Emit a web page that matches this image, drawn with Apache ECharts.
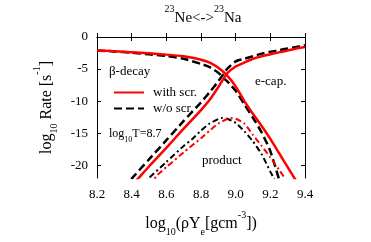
<!DOCTYPE html>
<html><head><meta charset="utf-8">
<script src="https://cdn.jsdelivr.net/npm/echarts@6/dist/echarts.min.js"></script>
<style>html,body{margin:0;padding:0;background:#fff}#c{width:371px;height:242px}</style>
</head><body><div id="c"></div>
<script>
// ---- data ----
const xTicks = [8.2, 8.4, 8.6, 8.8, 9.0, 9.2, 9.4];
const yTicks = [0, -5, -10, -15, -20];

const betaScrX = [8.2, 8.3, 8.4, 8.5, 8.6, 8.7, 8.75, 8.8, 8.85, 8.9, 8.95, 9.0, 9.05, 9.1, 9.15, 9.2, 9.25, 9.3, 9.35];
const betaScrY = [-2.1, -2.22, -2.38, -2.55, -2.75, -3.0, -3.25, -3.55, -4.0, -4.8, -6.0, -7.7, -10.0, -12.0, -13.9, -15.9, -18.1, -20.3, -22.5];

const betaNoX = [8.2, 8.3, 8.4, 8.5, 8.6, 8.7, 8.8, 8.85, 8.9, 8.95, 9.0, 9.05, 9.1, 9.15, 9.2, 9.25];
const betaNoY = [-2.1, -2.25, -2.45, -2.7, -2.95, -3.4, -4.2, -4.7, -5.6, -6.9, -8.4, -10.5, -12.6, -14.9, -17.8, -22.2];

const ecapScrX = [8.4, 8.45, 8.5, 8.6, 8.7, 8.8, 8.85, 8.9, 8.95, 9.0, 9.05, 9.1, 9.15, 9.2, 9.25, 9.3, 9.35, 9.4];
const ecapScrY = [-23.2, -21.7, -20.2, -17.3, -14.3, -11.4, -9.8, -7.8, -5.7, -4.6, -4.0, -3.4, -3.0, -2.7, -2.4, -2.1, -1.8, -1.55];

const ecapNoX = [8.35, 8.4, 8.5, 8.6, 8.7, 8.8, 8.85, 8.9, 8.95, 9.0, 9.05, 9.1, 9.15, 9.2, 9.25, 9.3, 9.35, 9.4];
const ecapNoY = [-23.6, -22.1, -19.1, -16.1, -13.1, -10.2, -8.6, -6.9, -5.0, -3.8, -3.4, -3.0, -2.6, -2.3, -2.05, -1.8, -1.55, -1.3];

const prodScrX = [8.5, 8.55, 8.6, 8.7, 8.8, 8.85, 8.9, 8.95, 8.97, 9.0, 9.05, 9.1, 9.15, 9.2, 9.25, 9.3];
const prodScrY = [-23.2, -21.5, -20.3, -18.0, -15.8, -14.6, -13.5, -12.8, -12.65, -12.75, -13.5, -15.3, -17.0, -18.8, -20.7, -22.7];

const prodNoX = [8.45, 8.5, 8.6, 8.7, 8.75, 8.8, 8.85, 8.9, 8.92, 8.95, 9.0, 9.05, 9.1, 9.15, 9.2, 9.25];
const prodNoY = [-23.5, -22.0, -19.5, -17.0, -15.9, -14.6, -13.5, -12.8, -12.65, -12.75, -13.4, -14.7, -16.3, -18.3, -21.0, -23.6];

const zip = (xs, ys) => xs.map((x, i) => [x, ys[i]]);
const RED = '#ff0000', BLK = '#000000';
const FONT = 'Liberation Serif';
const subRich = {
  sub: { fontSize: 10, verticalAlign: 'bottom', padding: [0, 0, -5, 0], fontFamily: FONT, color: '#000' },
  sup: { fontSize: 10, verticalAlign: 'top', padding: [-6, 0, 0, 0], fontFamily: FONT, color: '#000' },
  n: { fontSize: 16, fontFamily: FONT, color: '#000' }
};

function line(name, xs, ys, color, type, width) {
  return {
    name, type: 'line', data: zip(xs, ys), showSymbol: false, symbol: 'none',
    smooth: 0.2, clip: true, animation: false,
    lineStyle: { color, type, width }, itemStyle: { color }
  };
}

const chart = echarts.init(document.getElementById('c'), null, { renderer: 'canvas' });
const tickStyle = { show: true, inside: true, length: 4, lineStyle: { color: '#000' } };
const axisLine = { show: true, lineStyle: { color: '#000', width: 1 } };
chart.setOption({
  animation: false,
  backgroundColor: '#fff',
  title: {
    text: '{sup|23}{n|Ne<->}{sup|23}{n|Na}', left: 198, top: 6, textAlign: 'center',
    textStyle: { fontFamily: FONT, fontSize: 15, fontWeight: 'normal', color: '#000',
      rich: { sup: { fontSize: 10, verticalAlign: 'top', padding: [-7, 0, 0, 0], fontFamily: FONT, color: '#000' },
              n: { fontSize: 15, fontFamily: FONT, color: '#000' } } }
  },
  grid: { left: 97, right: 66, top: 37, bottom: 56, containLabel: false },
  legend: {
    data: ['with scr.', 'w/o scr.'], orient: 'vertical', left: 108, top: 81,
    itemWidth: 30, itemHeight: 14, itemGap: 3,
    itemStyle: { opacity: 0 },
    textStyle: { fontFamily: FONT, fontSize: 13, color: '#000', padding: [0, 0, 0, 4] },
    selectedMode: false
  },
  xAxis: [
    {
      type: 'value', min: 8.2, max: 9.4, interval: 0.2, position: 'bottom',
      axisLine, axisTick: tickStyle, splitLine: { show: false },
      axisLabel: { fontFamily: FONT, fontSize: 13, color: '#000', margin: 10,
        formatter: v => v.toFixed(1) },
      name: '{n|log}{sub|10}{n|(ρY}{sub|e}{n|[gcm}{sup|-3}{n|])}', nameLocation: 'middle', nameGap: 38,
      nameTextStyle: { fontFamily: FONT, fontSize: 16, color: '#000', rich: subRich }
    },
    {
      type: 'value', min: 8.2, max: 9.4, interval: 0.2, position: 'top',
      axisLine, axisTick: tickStyle, splitLine: { show: false },
      axisLabel: { show: false }
    }
  ],
  yAxis: [
    {
      type: 'value', min: -22, max: 0, position: 'left',
      axisLine, splitLine: { show: false },
      axisTick: Object.assign({}, tickStyle, { customValues: yTicks }),
      axisLabel: { fontFamily: FONT, fontSize: 13, color: '#000', margin: 9, customValues: yTicks },
      name: '{n|log}{sub|10}{n| Rate [s}{sup|-1}{n|]}', nameLocation: 'middle', nameGap: 28, nameRotate: 90,
      nameTextStyle: { fontFamily: FONT, fontSize: 16, color: '#000', rich: subRich }
    },
    {
      type: 'value', min: -22, max: 0, position: 'right',
      axisLine, splitLine: { show: false },
      axisTick: Object.assign({}, tickStyle, { customValues: yTicks }),
      axisLabel: { show: false }
    }
  ],
  series: [
    line('w/o scr.', betaNoX, betaNoY, BLK, [8, 4], 2.5),
    line('with scr.', betaScrX, betaScrY, RED, 'solid', 2.5),
    line('ecap w/o', ecapNoX, ecapNoY, BLK, [8, 4], 2.5),
    line('ecap with', ecapScrX, ecapScrY, RED, 'solid', 2.5),
    line('prod w/o', prodNoX, prodNoY, BLK, [6, 3, 2, 3], 2),
    line('prod with', prodScrX, prodScrY, RED, [6, 3, 2, 3], 2)
  ],
  graphic: [
    { type: 'text', left: 109, top: 65, style: { text: 'β-decay', fontFamily: FONT, fontSize: 13, fill: '#000' } },
    { type: 'text', left: 109, top: 128, style: { text: '{n|log}{sub|10}{n|T=8.7}', fontFamily: FONT, fontSize: 12, fill: '#000',
      rich: { n: { fontSize: 12, fontFamily: FONT, color: '#000' },
              sub: { fontSize: 8, verticalAlign: 'bottom', padding: [0, 0, -4, 0], fontFamily: FONT, color: '#000' } } } },
    { type: 'text', left: 202, top: 154, style: { text: 'product', fontFamily: FONT, fontSize: 13, fill: '#000' } },
    { type: 'text', left: 255, top: 75, style: { text: 'e-cap.', fontFamily: FONT, fontSize: 13, fill: '#000' } }
  ]
});
</script></body></html>
